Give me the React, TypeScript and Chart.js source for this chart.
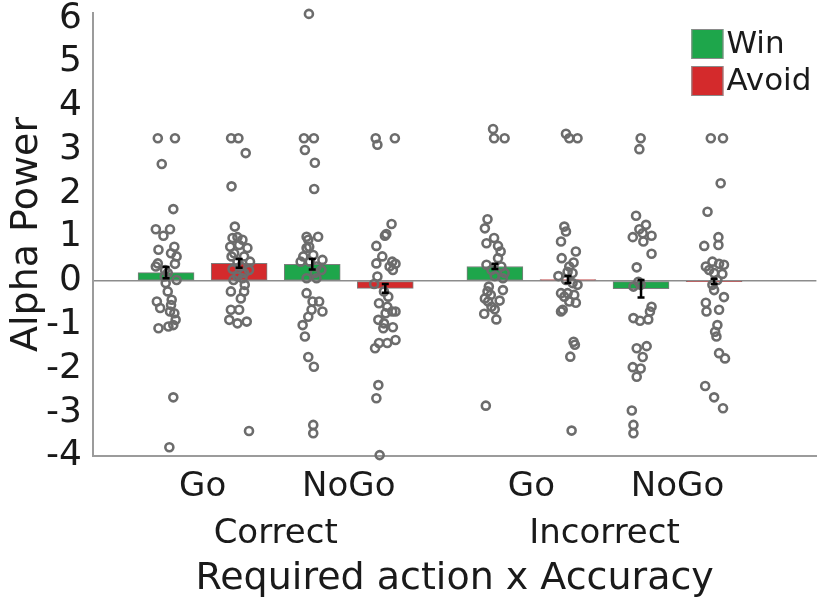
import React, { useEffect, useRef } from 'react';
import { Chart, registerables } from 'chart.js';

Chart.register(...registerables);

const FONT = "'DejaVu Sans', 'Liberation Sans', sans-serif";
const GREEN = '#1ea64b';
const RED = '#d42a2c';

const seriesNames = ['Win', 'Avoid'];
const actionLabels = ['Go', 'NoGo', 'Go', 'NoGo'];
const accuracyLabels = ['Correct', 'Incorrect'];
const xTitle = 'Required action x Accuracy';
const yTitle = 'Alpha Power';

// x positions of the bars (Correct: Go, NoGo | Incorrect: Go, NoGo)
const winX = [1, 3, 5.5, 7.5];
const avoidX = [2, 4, 6.5, 8.5];

const winMeans = [0.19, 0.38, 0.33, -0.18];
const avoidMeans = [0.4, -0.17, 0.03, -0.01];
const winSE = [0.13, 0.12, 0.06, 0.2];
const avoidSE = [0.1, 0.1, 0.08, 0.06];

// individual subjects: [jitter, value]
const correctGoWin = [
  [-0.113, 3.26], [0.122, 3.26], [-0.059, 2.67], [0.099, 1.64], [-0.14, 1.18], [0.054, 1.18],
  [-0.036, 1.03], [-0.104, 0.71], [0.113, 0.78], [0.068, 0.63], [0.144, 0.56], [-0.113, 0.4],
  [-0.14, 0.33], [-0.014, 0.25], [0.122, 0.39], [0.023, 0.18], [0.144, 0.02], [-0.005, -0.05],
  [0.023, -0.24], [-0.126, -0.47], [0.077, -0.43], [-0.081, -0.62], [0.054, -0.7], [0.113, -0.74],
  [0.131, -0.89], [-0.104, -1.08], [0.032, -1.04], [0.099, -1.01], [0.099, -2.66], [0.045, -3.8],
  [-0.02, 0.1], [0.068, -0.55],
];
const correctGoAvoid = [
  [-0.11, 3.26], [-0.01, 3.26], [0.09, 2.92], [-0.104, 2.16], [-0.059, 1.24], [-0.09, 0.98],
  [-0.023, 1.0], [0.045, 0.94], [-0.122, 0.78], [0.0, 0.82], [0.113, 0.75], [-0.068, 0.63],
  [0.068, 0.56], [-0.104, 0.56], [-0.023, 0.44], [0.149, 0.44], [0.023, 0.33], [-0.09, 0.27],
  [0.135, 0.25], [0.068, 0.18], [-0.023, 0.1], [-0.077, 0.02], [0.045, 0.06], [0.077, -0.09],
  [-0.113, -0.24], [0.068, -0.24], [0.023, -0.4], [-0.113, -0.66], [0.0, -0.66], [-0.135, -0.89],
  [-0.023, -0.97], [0.104, -0.93], [0.135, -3.43],
];
const correctNoGoWin = [
  [-0.045, 6.1], [-0.113, 3.26], [0.023, 3.26], [-0.1, 2.99], [0.036, 2.7], [0.027, 2.1],
  [-0.077, 1.01], [0.081, 1.01], [-0.054, 0.94], [-0.077, 0.75], [-0.041, 0.78], [-0.122, 0.56],
  [0.014, 0.59], [0.14, 0.48], [-0.158, 0.44], [-0.032, 0.44], [0.059, 0.33], [0.126, 0.25],
  [0.036, 0.18], [-0.077, 0.06], [0.059, 0.06], [-0.077, -0.28], [0.005, -0.47], [0.095, -0.47],
  [-0.009, -0.66], [0.14, -0.7], [-0.054, -0.82], [-0.131, -1.01], [-0.1, -1.27], [-0.054, -1.74],
  [0.023, -1.96], [0.014, -3.29], [0.014, -3.48],
];
const correctNoGoAvoid = [
  [-0.131, 3.26], [-0.108, 3.11], [0.131, 3.26], [0.086, 1.3], [0.014, 1.07], [-0.005, 1.03],
  [-0.122, 0.8], [-0.041, 0.56], [0.095, 0.44], [0.14, 0.39], [0.059, 0.33], [0.104, 0.25],
  [-0.122, 0.4], [-0.108, 0.1], [-0.153, -0.07], [-0.018, -0.24], [0.041, -0.36], [-0.086, -0.51],
  [0.027, -0.59], [0.095, -0.7], [0.005, -0.74], [0.14, -0.7], [-0.095, -0.89], [-0.018, -0.97],
  [-0.027, -1.08], [0.104, -1.06], [-0.086, -1.42], [0.027, -1.42], [0.14, -1.35], [-0.14, -1.54],
  [-0.095, -2.38], [-0.122, -2.68], [-0.077, -3.98],
];
const incorrectGoWin = [
  [-0.025, 3.47], [-0.011, 3.26], [0.133, 3.26], [-0.101, 1.41], [-0.137, 1.2], [-0.115, 0.86],
  [-0.011, 0.98], [0.043, 0.8], [0.079, 0.67], [0.043, 0.52], [-0.115, 0.37], [-0.047, 0.25],
  [0.088, 0.33], [0.133, 0.18], [-0.002, 0.11], [0.11, 0.06], [-0.083, -0.13], [0.11, -0.21],
  [-0.101, -0.24], [-0.056, -0.32], [-0.137, -0.4], [-0.092, -0.47], [0.065, -0.45], [-0.047, -0.59],
  [-0.002, -0.65], [-0.146, -0.75], [0.02, -0.88], [-0.124, -2.85],
];
const incorrectGoAvoid = [
  [-0.027, 3.36], [0.018, 3.26], [0.131, 3.26], [-0.05, 1.24], [-0.027, 1.13], [-0.095, 0.9],
  [0.108, 0.67], [-0.086, 0.52], [0.077, 0.42], [0.018, 0.33], [-0.005, 0.21], [0.063, 0.18],
  [-0.131, 0.11], [-0.027, 0.02], [0.063, -0.05], [0.131, -0.09], [-0.095, -0.28], [-0.005, -0.28],
  [-0.05, -0.36], [0.086, -0.32], [0.018, -0.47], [0.108, -0.5], [-0.072, -0.66], [-0.095, -0.7],
  [0.077, -1.39], [0.095, -1.46], [0.032, -1.73], [0.05, -3.42],
];
const incorrectNoGoWin = [
  [-0.005, 3.26], [-0.023, 3.01], [-0.068, 1.49], [0.068, 1.28], [-0.023, 1.18], [-0.113, 1.0],
  [0.023, 1.09], [0.144, 1.03], [0.032, 0.9], [0.144, 0.62], [-0.059, 0.31], [-0.036, -0.02],
  [-0.104, -0.13], [-0.005, -0.09], [0.144, -0.59], [0.122, -0.7], [-0.104, -0.85], [-0.014, -0.91],
  [0.099, -0.88], [-0.059, -1.54], [0.077, -1.49], [0.023, -1.74], [-0.113, -1.97], [-0.005, -2.0],
  [-0.059, -2.19], [-0.126, -2.96], [-0.104, -3.29], [-0.104, -3.48],
];
const incorrectNoGoAvoid = [
  [-0.045, 3.26], [0.122, 3.26], [0.09, 2.23], [-0.09, 1.58], [0.059, 1.0], [0.059, 0.82],
  [-0.135, 0.8], [-0.023, 0.44], [-0.113, 0.33], [0.068, 0.39], [0.135, 0.37], [-0.068, 0.25],
  [0.0, 0.18], [0.113, 0.16], [0.045, 0.02], [-0.023, -0.09], [0.0, -0.21], [0.135, -0.37],
  [-0.113, -0.5], [0.068, -0.66], [-0.104, -0.7], [0.045, -1.01], [0.014, -1.16], [0.032, -1.27],
  [0.068, -1.65], [0.149, -1.77], [-0.122, -2.4], [0.0, -2.66], [0.122, -2.91],
];

const subjectGroups = [
  correctGoWin, correctGoAvoid, correctNoGoWin, correctNoGoAvoid,
  incorrectGoWin, incorrectGoAvoid, incorrectNoGoWin, incorrectNoGoAvoid,
];
const groupX = [winX[0], avoidX[0], winX[1], avoidX[1], winX[2], avoidX[2], winX[3], avoidX[3]];

export default function App() {
  const ref = useRef<HTMLCanvasElement | null>(null);

  useEffect(() => {
    document.body.style.margin = '0';
    const canvas = ref.current;
    if (!canvas) return;

    const errorBars = {
      id: 'errorBars',
      afterDatasetsDraw(chart: any) {
        const xs = chart.scales.x;
        const ys = chart.scales.y;
        const ctx = chart.ctx;
        ctx.save();
        ctx.strokeStyle = '#000';
        ctx.lineWidth = 2.5;
        const draw = (xv: number, m: number, se: number) => {
          const px = xs.getPixelForValue(xv);
          const y1 = ys.getPixelForValue(m + se);
          const y2 = ys.getPixelForValue(m - se);
          ctx.beginPath();
          ctx.moveTo(px, y1);
          ctx.lineTo(px, y2);
          ctx.moveTo(px - 3.5, y1);
          ctx.lineTo(px + 3.5, y1);
          ctx.moveTo(px - 3.5, y2);
          ctx.lineTo(px + 3.5, y2);
          ctx.stroke();
        };
        winX.forEach((x, i) => draw(x, winMeans[i], winSE[i]));
        avoidX.forEach((x, i) => draw(x, avoidMeans[i], avoidSE[i]));
        ctx.restore();
      },
    };

    const labelsPlugin = {
      id: 'labelsPlugin',
      afterDraw(chart: any) {
        const xs = chart.scales.x;
        const ca = chart.chartArea;
        const ctx = chart.ctx;
        ctx.save();
        ctx.fillStyle = '#1a1a1a';
        ctx.textAlign = 'center';
        ctx.textBaseline = 'middle';
        ctx.font = `34px ${FONT}`;
        actionLabels.forEach((lab, i) => {
          const px = xs.getPixelForValue((winX[i] + avoidX[i]) / 2);
          ctx.fillText(lab, px, ca.bottom + 31);
        });
        accuracyLabels.forEach((lab, k) => {
          const px = xs.getPixelForValue((winX[2 * k] + avoidX[2 * k + 1]) / 2);
          ctx.fillText(lab, px, ca.bottom + 78);
        });
        ctx.font = `38px ${FONT}`;
        ctx.fillText(xTitle, (ca.left + ca.right) / 2, ca.bottom + 123);

        // legend
        const colors = [GREEN, RED];
        const bx = ca.right - 125;
        ctx.font = `31px ${FONT}`;
        ctx.textAlign = 'left';
        seriesNames.forEach((name, i) => {
          const top = 29 + i * 37;
          ctx.fillStyle = colors[i];
          ctx.fillRect(bx, top, 32, 30);
          ctx.strokeStyle = '#8a8a8a';
          ctx.lineWidth = 1;
          ctx.strokeRect(bx + 0.5, top + 0.5, 31, 29);
          ctx.fillStyle = '#1a1a1a';
          ctx.fillText(name, bx + 35, top + 16);
        });
        ctx.restore();
      },
    };

    const chart = new Chart(canvas, {
      type: 'bar',
      data: {
        datasets: [
          {
            type: 'bar',
            label: seriesNames[0],
            data: winX.map((x, i) => ({ x, y: winMeans[i] })),
            backgroundColor: GREEN,
            borderColor: '#7d7d7d',
            borderWidth: 1,
            borderSkipped: false,
            barThickness: 56,
            grouped: false,
            order: 3,
          } as any,
          {
            type: 'bar',
            label: seriesNames[1],
            data: avoidX.map((x, i) => ({ x, y: avoidMeans[i] })),
            backgroundColor: RED,
            borderColor: '#7d7d7d',
            borderWidth: 1,
            borderSkipped: false,
            barThickness: 56,
            grouped: false,
            order: 3,
          } as any,
          ...subjectGroups.map((g, gi) => ({
            type: 'scatter',
            data: g.map(([dx, v]) => ({ x: groupX[gi] + dx, y: v })),
            pointRadius: 4,
            pointBorderWidth: 2.6,
            borderColor: '#6c6c6c',
            backgroundColor: 'rgba(0,0,0,0)',
            pointHoverRadius: 4,
            showLine: false,
            clip: false,
            order: 1,
          } as any)),
        ],
      },
      options: {
        animation: false,
        responsive: true,
        maintainAspectRatio: false,
        layout: { padding: { top: 13, left: 0, right: 0, bottom: 0 } },
        plugins: { legend: { display: false }, tooltip: { enabled: false } },
        scales: {
          x: {
            type: 'linear',
            min: 0,
            max: 9.9,
            offset: false,
            grid: { display: false, drawTicks: false },
            border: { display: true, color: '#9b9b9b', width: 2 },
            ticks: { display: false },
            afterFit: (s: any) => {
              s.height = 145;
            },
          },
          y: {
            type: 'linear',
            min: -4,
            max: 6.12,
            ticks: {
              stepSize: 1,
              includeBounds: false,
              autoSkip: false,
              font: { family: FONT, size: 36, lineHeight: 1 },
              color: '#1a1a1a',
              padding: 11,
            },
            grid: {
              drawTicks: false,
              color: (c: any) => (c.tick && c.tick.value === 0 ? '#8c8c8c' : 'rgba(0,0,0,0)'),
              lineWidth: 1.5,
            },
            border: { display: true, color: '#9b9b9b', width: 2 },
            title: {
              display: true,
              text: yTitle,
              font: { family: FONT, size: 38 },
              color: '#1a1a1a',
              padding: { top: 4, bottom: 0 },
            },
            afterFit: (s: any) => {
              s.width = 93;
              s.paddingTop = 0;
              s.paddingBottom = 0;
            },
          },
        },
      } as any,
      plugins: [errorBars, labelsPlugin],
    });

    return () => chart.destroy();
  }, []);

  return (
    <div style={{ width: 823, height: 601, position: 'relative' }}>
      <canvas ref={ref} style={{ display: 'block' }} />
    </div>
  );
}
